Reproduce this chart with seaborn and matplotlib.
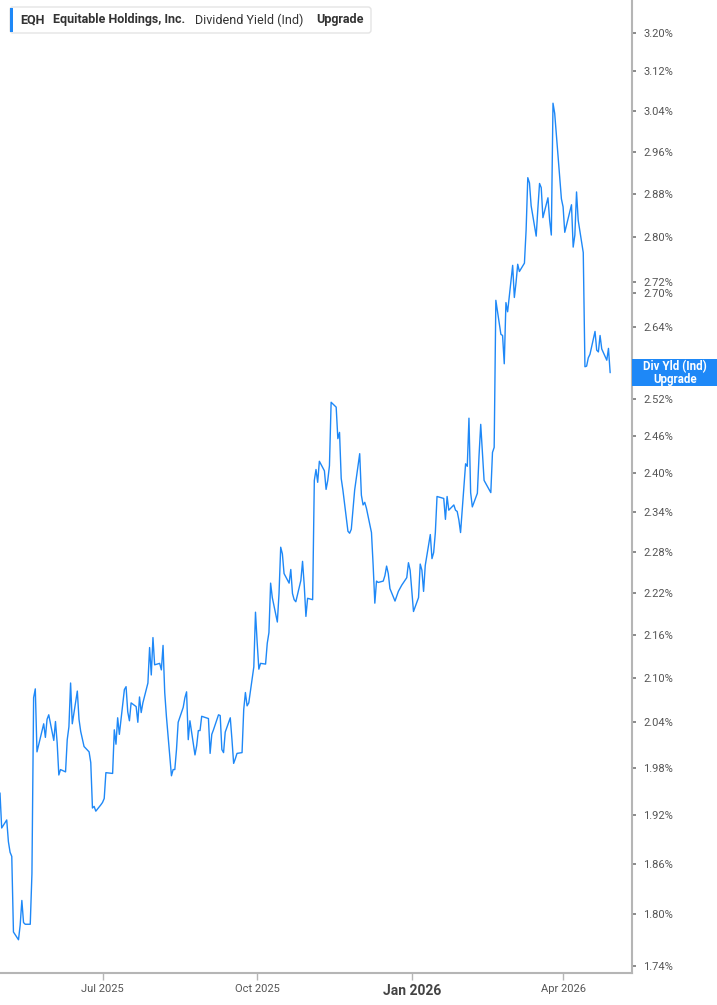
import pandas as pd
import numpy as np
import matplotlib
matplotlib.use("Agg")
import matplotlib.pyplot as plt
import matplotlib.dates as mdates
from matplotlib.ticker import FixedLocator, NullLocator, NullFormatter
from matplotlib.patches import FancyBboxPatch, Rectangle
import seaborn as sns

# EQH dividend yield (indicated), one value per trading day
start_date = "2025-05-01"
market_holidays = ["2025-05-26", "2025-06-19", "2025-07-04", "2025-09-01",
                   "2025-11-27", "2025-12-25", "2026-01-01", "2026-01-19",
                   "2026-02-16", "2026-04-03"]

div_yield = [
    1.948, 1.904, 1.914, 1.887, 1.874, 1.869, 1.779, 1.770, 1.787, 1.816,
    1.790, 1.788, 1.788, 1.848, 2.073, 2.085, 2.001, 2.038, 2.020, 2.044,
    2.050, 2.016, 2.041, 2.013, 1.971, 1.978, 1.975, 2.017, 2.034, 2.093,
    2.038, 2.082, 2.044, 2.028, 2.008, 2.001, 1.987, 1.929, 1.931, 1.925,
    1.933, 1.936, 1.941, 1.974, 1.973, 2.030, 2.011, 2.046, 2.024, 2.084,
    2.088, 2.054, 2.042, 2.066, 2.061, 2.040, 2.074, 2.053, 2.066, 2.093,
    2.142, 2.104, 2.156, 2.118, 2.120, 2.111, 2.145, 2.080, 2.048, 1.970,
    1.978, 1.978, 2.004, 2.040, 2.060, 2.073, 2.081, 2.017, 2.042, 1.997,
    2.009, 2.029, 2.029, 2.048, 2.045, 1.999, 2.024, 2.030, 2.050, 2.049,
    2.004, 2.000, 2.027, 2.046, 2.017, 1.986, 1.992, 1.999, 2.000, 2.057,
    2.080, 2.062, 2.066, 2.115, 2.192, 2.149, 2.112, 2.120, 2.119, 2.148,
    2.163, 2.234, 2.213, 2.178, 2.219, 2.287, 2.277, 2.248, 2.234, 2.254,
    2.219, 2.210, 2.207, 2.238, 2.266, 2.231, 2.186, 2.212, 2.210, 2.389,
    2.406, 2.386, 2.419, 2.404, 2.375, 2.389, 2.412, 2.514, 2.506, 2.455,
    2.465, 2.392, 2.374, 2.311, 2.308, 2.314, 2.374, 2.431, 2.366, 2.351,
    2.355, 2.346, 2.309, 2.260, 2.205, 2.237, 2.235, 2.237, 2.245, 2.259,
    2.248, 2.226, 2.208, 2.215, 2.222, 2.231, 2.242, 2.264, 2.253, 2.193,
    2.213, 2.262, 2.253, 2.222, 2.260, 2.306, 2.270, 2.279, 2.309, 2.364,
    2.361, 2.329, 2.364, 2.343, 2.351, 2.343, 2.341, 2.328, 2.309, 2.415,
    2.411, 2.488, 2.370, 2.348, 2.369, 2.428, 2.478, 2.433, 2.389, 2.370,
    2.433, 2.441, 2.687, 2.628, 2.626, 2.578, 2.683, 2.667, 2.749, 2.692,
    2.718, 2.751, 2.738, 2.753, 2.813, 2.911, 2.901, 2.858, 2.802, 2.853,
    2.900, 2.892, 2.836, 2.873, 2.831, 2.804, 3.056, 3.036, 2.911, 2.871,
    2.856, 2.809, 2.860, 2.782, 2.804, 2.884, 2.831, 2.772, 2.573, 2.574,
    2.588, 2.594, 2.633, 2.601, 2.598, 2.626, 2.603, 2.584, 2.604, 2.563,
]

y_ticks = [3.20, 3.12, 3.04, 2.96, 2.88, 2.80, 2.72, 2.70, 2.64, 2.58, 2.52,
           2.46, 2.40, 2.34, 2.28, 2.22, 2.16, 2.10, 2.04, 1.98, 1.92, 1.86,
           1.80, 1.74]
x_tick_dates = ["2025-07-01", "2025-10-01", "2026-01-01", "2026-04-01"]
x_tick_labels = ["Jul 2025", "Oct 2025", "Jan 2026", "Apr 2026"]
x_range = ["2025-05-01", "2026-05-12"]
y_range = [1.732, 3.269]

legend_parts = ["EQH", "Equitable Holdings, Inc.", "Dividend Yield (Ind)", "Upgrade"]
end_label = "Div Yld (Ind)\nUpgrade"

blue = "#1e88f7"
spine_grey = "#b5b5b5"
text_grey = "#555555"

dates = pd.bdate_range(start=start_date, periods=len(div_yield), freq="C",
                       holidays=market_holidays)
df = pd.DataFrame({"date": dates, "yield": div_yield})

sns.set_style("white")
plt.rcParams["font.family"] = ["Roboto", "DejaVu Sans"]

W, H = 717, 1005
fig = plt.figure(figsize=(W / 100, H / 100), dpi=100)
ax = fig.add_axes([0, 32 / H, 632 / W, 1 - 32 / H])

sns.lineplot(data=df, x="date", y="yield", ax=ax, color=blue, linewidth=1.0)

ax.set_yscale("log")
ax.set_ylim(*y_range)
ax.set_xlim(pd.Timestamp(x_range[0]), pd.Timestamp(x_range[1]))

ax.yaxis.tick_right()
ax.yaxis.set_major_locator(FixedLocator(y_ticks))
ax.yaxis.set_minor_locator(NullLocator())
ax.yaxis.set_minor_formatter(NullFormatter())
ax.set_yticklabels([f"{v:.2f}%" for v in y_ticks])

ax.set_xticks([pd.Timestamp(d) for d in x_tick_dates])
ax.set_xticklabels(x_tick_labels)

ax.tick_params(axis="y", which="major", right=True, left=False, length=3,
               width=1.2, color="#777777", labelsize=8, labelcolor=text_grey, pad=5)
ax.tick_params(axis="x", which="major", bottom=True, length=5, width=1,
               color=spine_grey, labelsize=8, labelcolor=text_grey, pad=3)

# year boundary label is emphasised
for lbl in ax.get_xticklabels():
    if lbl.get_text().startswith("Jan"):
        lbl.set_fontweight("bold")
        lbl.set_fontsize(10)
        lbl.set_color("#444444")

for side in ["left", "top"]:
    ax.spines[side].set_visible(False)
for side in ["right", "bottom"]:
    ax.spines[side].set_color(spine_grey)
    ax.spines[side].set_linewidth(1.5)

ax.set_xlabel("")
ax.set_ylabel("")
ax.grid(False)

# header box at top left
hdr = FancyBboxPatch((10 / W, 1 - 33 / H), 361 / W, 26 / H,
                     boxstyle="round,pad=0,rounding_size=0.004",
                     mutation_aspect=W / H, transform=fig.transFigure,
                     facecolor="white", edgecolor="#e4e4e4", linewidth=1, zorder=5)
fig.add_artist(hdr)
fig.add_artist(Rectangle((10 / W, 1 - 32 / H), 3 / W, 24 / H, transform=fig.transFigure,
                         facecolor=blue, edgecolor="none", zorder=6))
hdr_x = [20, 53, 195, 316]
hdr_w = ["bold", "bold", "normal", "bold"]
for txt, px, fw in zip(legend_parts, hdr_x, hdr_w):
    fig.text(px / W, 1 - 20 / H, txt, ha="left", va="center", fontsize=9,
             fontweight=fw, color="#333333", zorder=7)

# value tag on the right axis at the last point
fig.canvas.draw()
_, y_last = ax.transData.transform((mdates.date2num(dates[-1]), div_yield[-1]))
box_h = 27
fig.add_artist(Rectangle((632 / W, (y_last - box_h / 2) / H), 85 / W, box_h / H,
                         transform=fig.transFigure, facecolor=blue,
                         edgecolor="none", zorder=5))
fig.text(675 / W, y_last / H, end_label, ha="center", va="center", color="white",
         fontsize=8.3, fontweight="bold", linespacing=0.95, zorder=6)

fig.savefig("out.png", dpi=100)
plt.close(fig)
